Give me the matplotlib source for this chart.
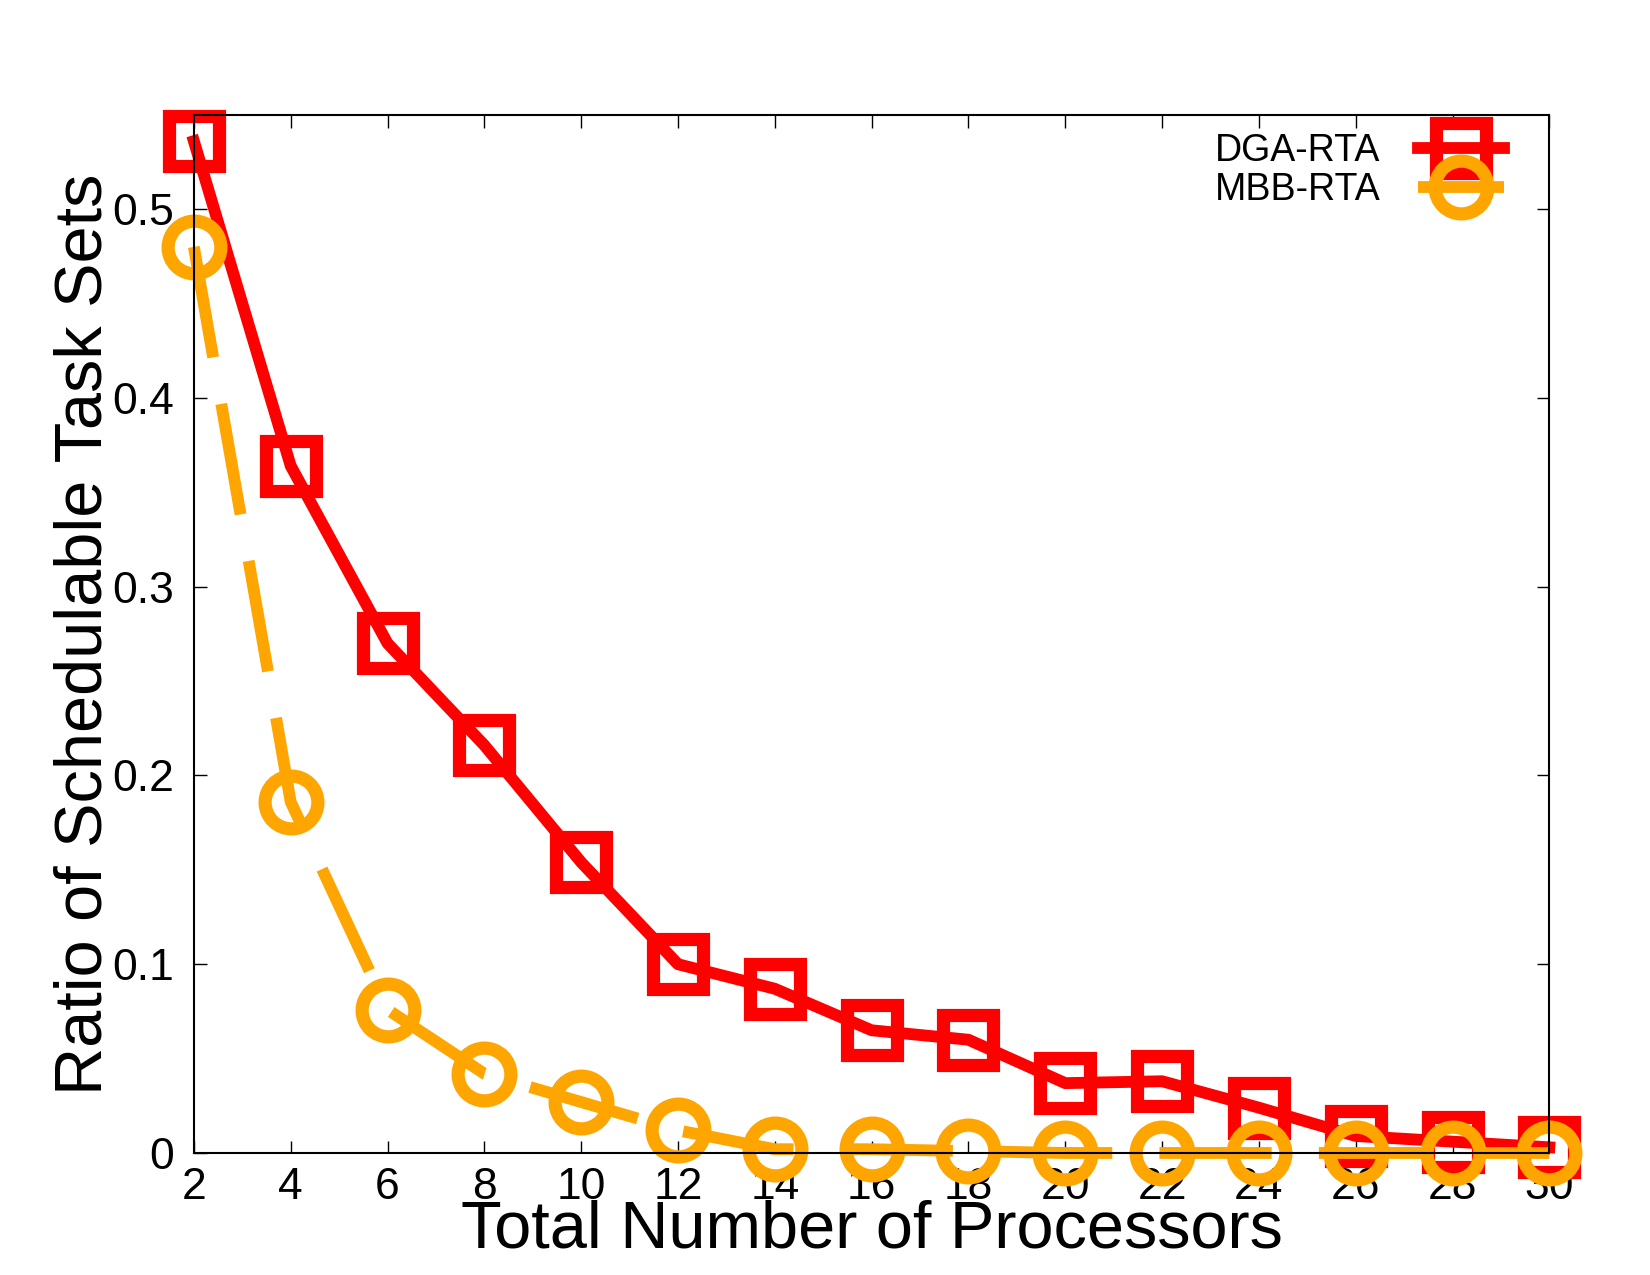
import numpy as np
import matplotlib.pyplot as plt

plt.rcParams['font.family'] = ['Liberation Sans', 'DejaVu Sans']

procs = [2, 4, 6, 8, 10, 12, 14, 16, 18, 20, 22, 24, 26, 28, 30]
dga_rta = [0.536, 0.364, 0.270, 0.216, 0.154, 0.100, 0.087, 0.065, 0.060,
           0.037, 0.038, 0.024, 0.009, 0.006, 0.003]
mbb_rta = [0.480, 0.186, 0.076, 0.042, 0.027, 0.012, 0.002, 0.002, 0.001,
           0.0, 0.0, 0.0, 0.0, 0.0, 0.0]

xticks = np.arange(2, 31, 2)
yticks = [0, 0.1, 0.2, 0.3, 0.4, 0.5]
ytick_labels = ['0', '0.1', '0.2', '0.3', '0.4', '0.5']

fig = plt.figure(figsize=(16.5, 12.75), dpi=100)
ax = fig.add_axes([0.1175, 0.0957, 0.939 - 0.1175, 0.910 - 0.0957])

ax.plot(procs, dga_rta, color='#ff0000', lw=8.5, marker='s', ms=36,
        mfc='none', mew=9.5, clip_on=False, label='DGA-RTA', zorder=3)
ax.plot(procs, mbb_rta, color='#ffa500', lw=8.5, marker='o', ms=38,
        mfc='none', mew=9.5, clip_on=False, label='MBB-RTA', zorder=4,
        linestyle=(0, (9.5, 4.0)))

ax.set_xlim(2, 30)
ax.set_ylim(0, 0.55)
ax.set_xticks(xticks)
ax.set_yticks(yticks)
ax.set_yticklabels(ytick_labels)
ax.tick_params(direction='in', length=9, width=1, top=True, right=True,
               labelsize=32)
ax.tick_params(axis='x', pad=10)
ax.tick_params(axis='y', pad=14)
for s in ax.spines.values():
    s.set_linewidth(1.5)
    s.set_zorder(5)

ax.set_xlabel('Total Number of Processors', fontsize=48, labelpad=-6)
ax.set_ylabel('Ratio of Schedulable Task Sets', fontsize=48, labelpad=-2)

leg = ax.legend(loc='upper right', bbox_to_anchor=(0.986, 1.008), frameon=False,
                fontsize=27, markerfirst=False, handlelength=2.3,
                labelspacing=0.1, handletextpad=1.0, borderaxespad=0.3)
for t in leg.get_texts():
    t.set_ha('right')

fig.savefig('out.png', dpi=100)
